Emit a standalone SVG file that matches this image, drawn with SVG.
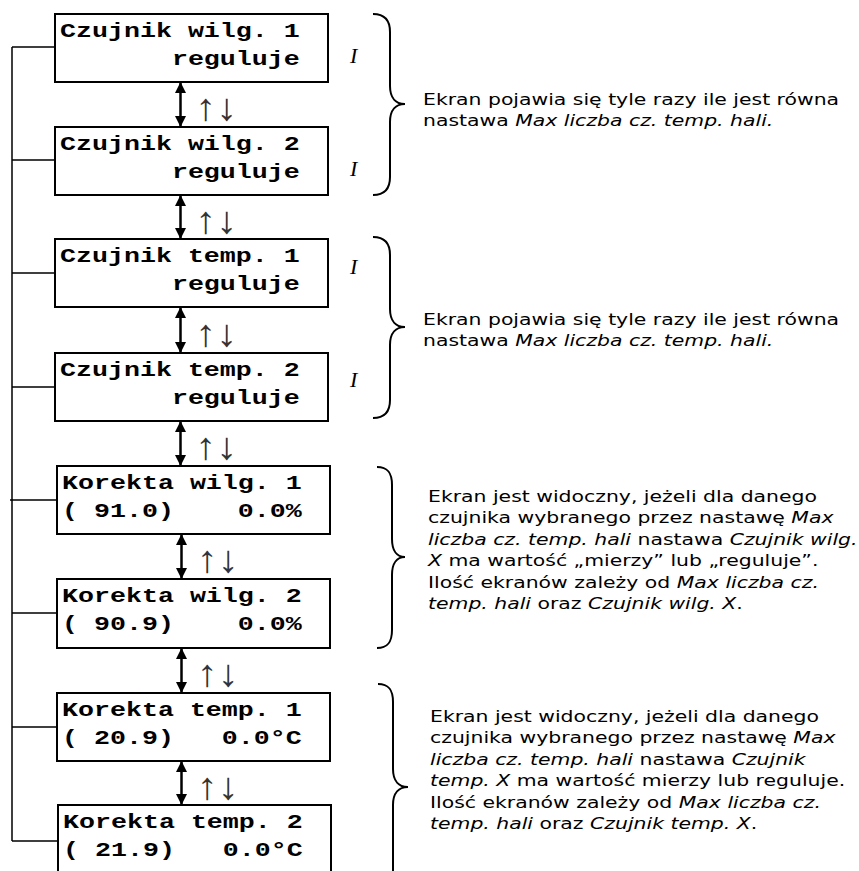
<svg xmlns="http://www.w3.org/2000/svg" width="859" height="871" viewBox="0 0 859 871">
<style>
.box{fill:#fff;stroke:#000;stroke-width:2}
.mono{font-family:"Liberation Mono","Courier New",monospace;font-weight:bold;font-size:20px;fill:#000}
.note{font-family:"DejaVu Sans","Verdana",sans-serif;font-size:15px;fill:#000}
.it{font-style:italic}
.mark{font-family:"Liberation Serif","Times New Roman",serif;font-style:italic;font-size:22px;fill:#000}
.ud{font-family:"Liberation Serif","DejaVu Serif",serif;font-size:38px;fill:#333}
.conn{fill:none;stroke:#000;stroke-width:1.5}
.arr{stroke:#000;stroke-width:2.5;marker-start:url(#ah);marker-end:url(#ah)}
.brace{fill:none;stroke:#000;stroke-width:2}
</style>
<defs>
<marker id="ah" markerUnits="userSpaceOnUse" viewBox="0 0 11 11" refX="10" refY="5.5" markerWidth="11" markerHeight="11" orient="auto-start-reverse">
<path d="M0,0 L11,5.5 L0,11 z" fill="#000"/>
</marker>
</defs>
<rect width="859" height="871" fill="#fff"/>
<g id="connectors">
<path class="conn" d="M12,47 V841 M12,47 H55 M12,160 H55 M12,273 H55 M12,387 H55 M10,500 H57 M12,613 H57 M12,727 H57 M12,841 H58"/>
<line class="arr" x1="180.5" y1="83" x2="180.5" y2="126"/>
<line class="arr" x1="180.5" y1="196" x2="180.5" y2="238"/>
<line class="arr" x1="180.5" y1="308" x2="180.5" y2="352"/>
<line class="arr" x1="180.5" y1="422" x2="180.5" y2="465"/>
<line class="arr" x1="181.5" y1="535" x2="181.5" y2="578"/>
<line class="arr" x1="181.5" y1="649" x2="181.5" y2="692"/>
<line class="arr" x1="181.5" y1="762" x2="181.5" y2="804"/>
<g transform="translate(195,0) scale(1.1,1)">
<text class="ud" x="0" y="120">↑↓</text>
<text class="ud" x="0" y="233">↑↓</text>
<text class="ud" x="0" y="346">↑↓</text>
<text class="ud" x="0" y="459">↑↓</text>
</g>
<g transform="translate(196.5,0) scale(1.1,1)">
<text class="ud" x="0" y="572">↑↓</text>
<text class="ud" x="0" y="686">↑↓</text>
<text class="ud" x="0" y="799">↑↓</text>
</g>
</g>
<g id="n1">
<rect class="box" x="55" y="14" width="273" height="68"/>
<g transform="translate(60,0) scale(1.333,1)">
<text class="mono" x="0" y="37">Czujnik wilg. 1</text>
<text class="mono" x="0" y="65.5" xml:space="preserve">       reguluje</text>
</g>
</g>
<g id="n2">
<rect class="box" x="55" y="127" width="273" height="68"/>
<g transform="translate(60,0) scale(1.333,1)">
<text class="mono" x="0" y="150">Czujnik wilg. 2</text>
<text class="mono" x="0" y="178.5" xml:space="preserve">       reguluje</text>
</g>
</g>
<g id="n3">
<rect class="box" x="55" y="239" width="273" height="68"/>
<g transform="translate(60,0) scale(1.333,1)">
<text class="mono" x="0" y="262">Czujnik temp. 1</text>
<text class="mono" x="0" y="290.5" xml:space="preserve">       reguluje</text>
</g>
</g>
<g id="n4">
<rect class="box" x="55" y="353" width="273" height="68"/>
<g transform="translate(60,0) scale(1.333,1)">
<text class="mono" x="0" y="376">Czujnik temp. 2</text>
<text class="mono" x="0" y="404.5" xml:space="preserve">       reguluje</text>
</g>
</g>
<g id="n5">
<rect class="box" x="57" y="466" width="273" height="68"/>
<g transform="translate(62,0) scale(1.333,1)">
<text class="mono" x="0" y="489">Korekta wilg. 1</text>
<text class="mono" x="0" y="517.5" xml:space="preserve">( 91.0)    0.0%</text>
</g>
</g>
<g id="n6">
<rect class="box" x="57" y="579" width="273" height="69"/>
<g transform="translate(62,0) scale(1.333,1)">
<text class="mono" x="0" y="602">Korekta wilg. 2</text>
<text class="mono" x="0" y="630.5" xml:space="preserve">( 90.9)    0.0%</text>
</g>
</g>
<g id="n7">
<rect class="box" x="57" y="693" width="273" height="68"/>
<g transform="translate(62,0) scale(1.333,1)">
<text class="mono" x="0" y="716">Korekta temp. 1</text>
<text class="mono" x="0" y="744.5" xml:space="preserve">( 20.9)   0.0°C</text>
</g>
</g>
<g id="n8">
<rect class="box" x="58" y="805" width="273" height="68"/>
<g transform="translate(63,0) scale(1.333,1)">
<text class="mono" x="0" y="828">Korekta temp. 2</text>
<text class="mono" x="0" y="856.5" xml:space="preserve">( 21.9)   0.0°C</text>
</g>
</g>
<g id="marks">
<text class="mark" x="350" y="63">I</text>
<text class="mark" x="350" y="176">I</text>
<text class="mark" x="350" y="274">I</text>
<text class="mark" x="350" y="387">I</text>
</g>
<g id="braces">
<path class="brace" d="M373,14 C385,14 390,20 390,32 L390,86 C390,98 396,104 405,104 C396,104 390,110 390,122 L390,177 C390,189 385,195 373,195"/>
<path class="brace" d="M373,237 C385,237 390,243 390,255 L390,309 C390,321 396,327 405,327 C396,327 390,333 390,345 L390,400 C390,412 385,418 373,418"/>
<path class="brace" d="M377,467 C388,467 392,473 392,485 L392,539 C392,551 397,557 405,557 C397,557 392,563 392,575 L392,630 C392,642 388,648 377,648"/>
<path class="brace" d="M378,684 C389,684 393,690 393,702 L393,769 C393,781 399,787 408,787 C399,787 393,793 393,805 L393,872 C393,884 389,890 378,890"/>
</g>
<g id="note1" transform="translate(423,0) scale(1.36,1)">
<text class="note" x="0" y="105">Ekran pojawia się tyle razy ile jest równa</text>
<text class="note" x="0" y="126">nastawa <tspan class="it">Max liczba cz. temp. hali.</tspan></text>
</g>
<g id="note2" transform="translate(423,0) scale(1.36,1)">
<text class="note" x="0" y="325">Ekran pojawia się tyle razy ile jest równa</text>
<text class="note" x="0" y="346">nastawa <tspan class="it">Max liczba cz. temp. hali.</tspan></text>
</g>
<g id="note3" transform="translate(428,0) scale(1.36,1)">
<text class="note" x="0" y="502">Ekran jest widoczny, jeżeli dla danego</text>
<text class="note" x="0" y="523.5">czujnika wybranego przez nastawę <tspan class="it">Max</tspan></text>
<text class="note" x="0" y="545"><tspan class="it">liczba cz. temp. hali</tspan> nastawa <tspan class="it">Czujnik wilg.</tspan></text>
<text class="note" x="0" y="566.5"><tspan class="it">X</tspan> ma wartość „mierzy” lub „reguluje”.</text>
<text class="note" x="0" y="588">Ilość ekranów zależy od <tspan class="it">Max liczba cz.</tspan></text>
<text class="note" x="0" y="609.5"><tspan class="it">temp. hali</tspan> oraz <tspan class="it">Czujnik wilg. X</tspan>.</text>
</g>
<g id="note4" transform="translate(430,0) scale(1.36,1)">
<text class="note" x="0" y="722">Ekran jest widoczny, jeżeli dla danego</text>
<text class="note" x="0" y="743.5">czujnika wybranego przez nastawę <tspan class="it">Max</tspan></text>
<text class="note" x="0" y="765"><tspan class="it">liczba cz. temp. hali</tspan> nastawa <tspan class="it">Czujnik</tspan></text>
<text class="note" x="0" y="786.5"><tspan class="it">temp. X</tspan> ma wartość mierzy lub reguluje.</text>
<text class="note" x="0" y="808">Ilość ekranów zależy od <tspan class="it">Max liczba cz.</tspan></text>
<text class="note" x="0" y="829.5"><tspan class="it">temp. hali</tspan> oraz <tspan class="it">Czujnik temp. X</tspan>.</text>
</g>
</svg>
